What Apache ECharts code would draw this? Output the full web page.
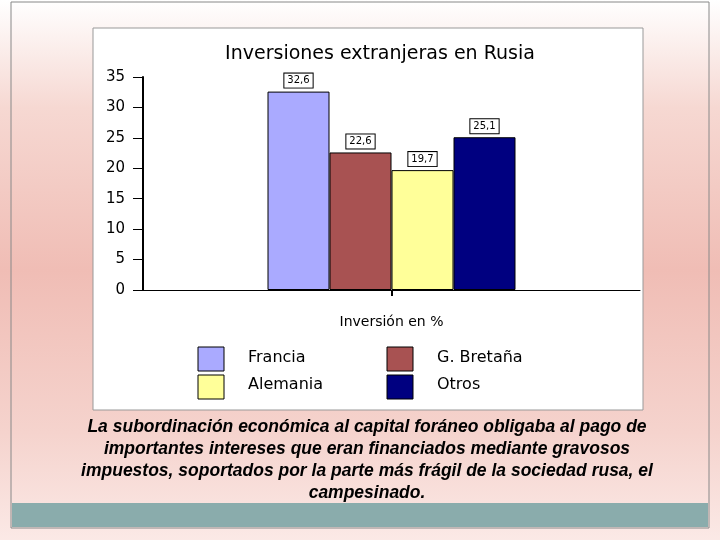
<!DOCTYPE html>
<html><head><meta charset="utf-8">
<script src="https://cdn.jsdelivr.net/npm/echarts@6/dist/echarts.min.js"></script>
<style>
html,body{margin:0;padding:0;}
body{width:720px;height:540px;background:linear-gradient(to bottom,#ffffff 0%,#f6d8d2 20%,#f0bdb5 50%,#f5d3cd 80%,#fbe9e6 100%);}
#c{width:720px;height:540px;}
</style></head><body>
<div id="c"></div>
<script>
const title = 'Inversiones extranjeras en Rusia';
const category = ['Inversión en %'];
const seriesNames = ['Francia','G. Bretaña','Alemania','Otros'];
const seriesValues = [32.6, 22.6, 19.7, 25.1];
const seriesColors = ['#aaaaff','#a85252','#ffff99','#000080'];
const yTicks = {min:0,max:35,interval:5};
const caption = 'La subordinación económica al capital foráneo obligaba al pago de\nimportantes intereses que eran financiados mediante gravosos\nimpuestos, soportados por la parte más frágil de la sociedad rusa, el\ncampesinado.';

const chart = echarts.init(document.getElementById('c'));
const font = 'DejaVu Sans';
chart.setOption({
  animation:false,
  title:{text:title,left:375,top:40,textAlign:'center',textStyle:{fontFamily:font,fontWeight:'normal',fontSize:19,color:'#000'}},
  legend:{show:false},
  grid:{left:143,right:80,top:77,bottom:250},
  xAxis:{type:'category',data:category,name:category[0],nameLocation:'middle',nameGap:25,
    nameTextStyle:{fontFamily:font,fontSize:14,color:'#000'},
    axisLabel:{show:false},axisTick:{show:true,length:6,alignWithLabel:true,lineStyle:{color:'#000',width:2}},
    axisLine:{lineStyle:{color:'#000',width:1}}},
  yAxis:{type:'value',min:yTicks.min,max:yTicks.max,interval:yTicks.interval,
    axisLine:{show:true,lineStyle:{color:'#000',width:2}},axisTick:{show:true,length:10,lineStyle:{color:'#000'}},
    splitLine:{show:false},axisLabel:{fontFamily:font,fontSize:15,color:'#000',margin:18}},
  series: seriesNames.map((n,i)=>({name:n,type:'bar',data:[seriesValues[i]],barWidth:62,barGap:'0%',
    itemStyle:{color:seriesColors[i],borderColor:'#000',borderWidth:1},
    label:{show:true,position:'top',distance:4,formatter:p=>String(p.value).replace('.',','),
      fontFamily:font,fontSize:10,color:'#000',backgroundColor:'#fff',borderColor:'#000',borderWidth:1,padding:[2,3]}})),
  graphic:[
    {type:'rect',z:-10,shape:{x:93,y:28,width:550,height:382},style:{fill:'#fff',stroke:'#999',lineWidth:1}},
    {type:'rect',shape:{x:198,y:347,width:26,height:24},style:{fill:seriesColors[0],stroke:'#000'}},
    {type:'text',style:{x:248,y:350,text:seriesNames[0],fontFamily:font,fontSize:16,fill:'#000'}},
    {type:'rect',shape:{x:387,y:347,width:26,height:24},style:{fill:seriesColors[1],stroke:'#000'}},
    {type:'text',style:{x:437,y:350,text:seriesNames[1],fontFamily:font,fontSize:16,fill:'#000'}},
    {type:'rect',shape:{x:198,y:375,width:26,height:24},style:{fill:seriesColors[2],stroke:'#000'}},
    {type:'text',style:{x:248,y:377,text:seriesNames[2],fontFamily:font,fontSize:16,fill:'#000'}},
    {type:'rect',shape:{x:387,y:375,width:26,height:24},style:{fill:seriesColors[3],stroke:'#000'}},
    {type:'text',style:{x:437,y:377,text:seriesNames[3],fontFamily:font,fontSize:16,fill:'#000'}},
    {type:'text',style:{x:367,y:416,text:caption,align:'center',fontFamily:'Liberation Sans',fontStyle:'italic',fontWeight:'bold',fontSize:17.5,lineHeight:22,fill:'#000'}},
    {type:'rect',shape:{x:12,y:503,width:696,height:24},style:{fill:'#8aacac'}},
    {type:'rect',shape:{x:11,y:2,width:698,height:526},style:{fill:'none',stroke:'#888',lineWidth:1}}
  ]
});
</script></body></html>
